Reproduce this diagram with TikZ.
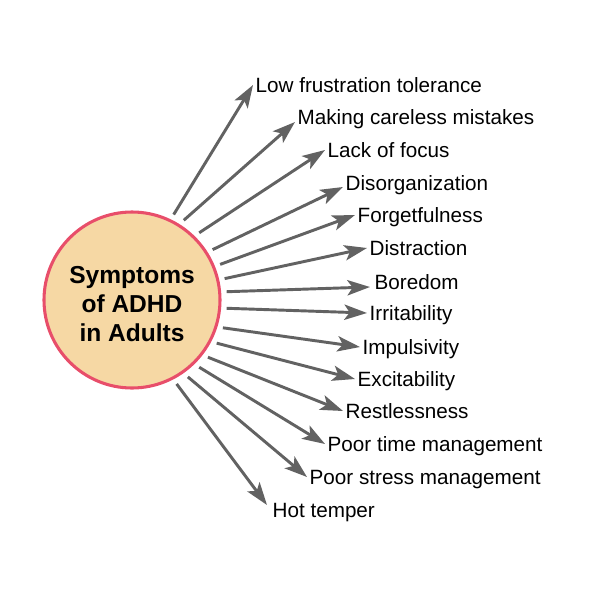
\documentclass[tikz,border=0pt]{standalone}
\usepackage{fontspec}
\setmainfont{Liberation Sans}
\usetikzlibrary{arrows.meta,calc}

\definecolor{rimred}{RGB}{232,78,106}
\definecolor{discfill}{RGB}{246,216,164}
\definecolor{arrowgray}{RGB}{98,98,98}

\tikzset{every picture/.style={line width=0.75pt}}
\tikzset{
  symcircle/.style={circle,draw=rimred,fill=discfill,line width=2.3pt,minimum size=132pt,inner sep=0pt,outer sep=5.3pt,
    font=\fontsize{18.4}{21.8}\selectfont\bfseries,align=center},
  symlabel/.style={anchor=west,inner sep=0pt,outer sep=2pt,text height=14pt,text depth=3pt,font=\fontsize{15.5}{18}\selectfont},
  symarrow/.style={draw=arrowgray,line width=2.2pt,-{Stealth[length=17pt,width=11.5pt,inset=4pt]}}
}

\begin{document}
\begin{tikzpicture}[x=0.75pt,y=0.75pt,yscale=-1,xscale=1]
\useasboundingbox (0,0) rectangle (600,600);

%Shape: Circle
\node[symcircle] (sym) at (132,300) {\rule{0pt}{19.5pt}Symptoms\\of ADHD\\in Adults};

%Text Nodes
\node[symlabel] (frus) at (253,85) {Low frustration tolerance};
\node[symlabel] (mist) at (295,117) {Making careless mistakes};
\node[symlabel] (focus) at (325,150) {Lack of focus};
\node[symlabel] (disorg) at (343,183) {Disorganization};
\node[symlabel] (forget) at (355,215) {Forgetfulness};
\node[symlabel] (distr) at (367,248) {Distraction};
\node[symlabel] (bore) at (372,282) {Boredom};
\node[symlabel] (irrit) at (367,313) {Irritability};
\node[symlabel] (impul) at (360,347) {Impulsivity};
\node[symlabel] (excit) at (355,379) {Excitability};
\node[symlabel] (restl) at (343,411) {Restlessness};
\node[symlabel] (ptime) at (325,444) {Poor time management};
\node[symlabel] (pstress) at (307,477) {Poor stress management};
\node[symlabel] (temper) at (270,510) {Hot temper};

%Straight Lines
\draw[symarrow] (sym.64) -- (frus.west);
\draw[symarrow] (sym.57) -- ($(mist.west)+(0,5)$);
\draw[symarrow] (sym.45) -- (focus.west);
\draw[symarrow] (sym.32) -- ($(disorg.west)+(0,4)$);
\draw[symarrow] (sym.22) -- (forget.west);
\draw[symarrow] (sym.13) -- (distr.west);
\draw[symarrow] (sym.5) -- ($(bore.west)+(-2,5)$);
\draw[symarrow] (sym.-5) -- (irrit.west);
\draw[symarrow] (sym.-17) -- (impul.west);
\draw[symarrow] (sym.-27) -- (excit.west);
\draw[symarrow] (sym.-37) -- (restl.west);
\draw[symarrow] (sym.-45) -- (ptime.west);
\draw[symarrow] (sym.-54) -- (pstress.west);
\draw[symarrow] (sym.-62) -- ($(temper.west)+(-3,-5)$);

\end{tikzpicture}
\end{document}
